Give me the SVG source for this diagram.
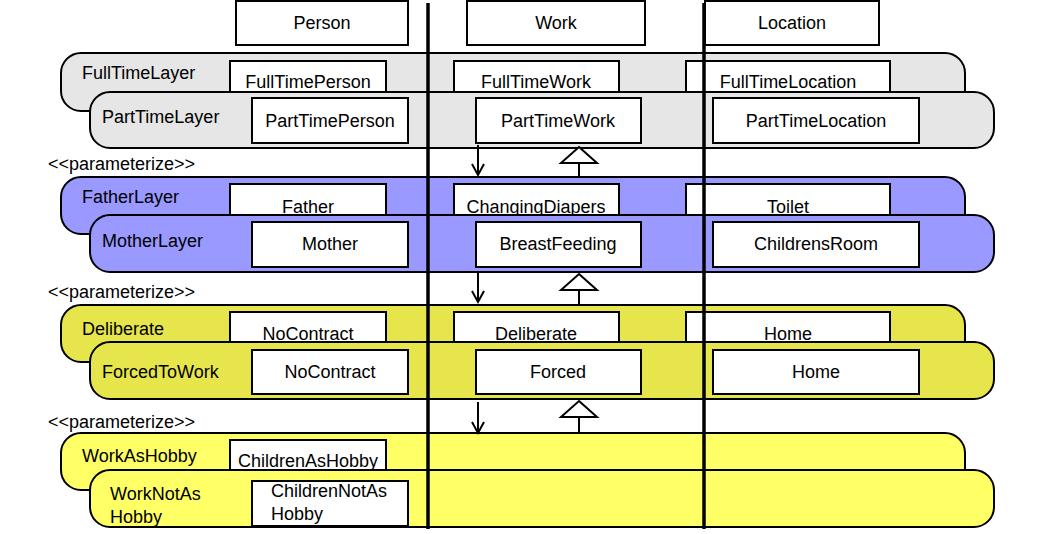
<svg xmlns="http://www.w3.org/2000/svg" width="1060" height="534" viewBox="0 0 1060 534">
<style>
text{font-family:"Liberation Sans",Arial,sans-serif;font-size:18px;fill:#000}
.c{text-anchor:middle}
.box{fill:#fff;stroke:#000;stroke-width:2}
.lay{stroke:#000;stroke-width:2}
.gray{fill:#e6e6e6}
.blue{fill:#9999ff}
.olive{fill:#e6e64c}
.yel{fill:#ffff66}
.lane{stroke:#000;stroke-width:3.5}
.ln{stroke:#000;stroke-width:2;fill:none}
.tri{stroke:#000;stroke-width:2;fill:#fff}
</style>
<rect width="1060" height="534" fill="#fff"/>
<g id="Person"><rect class="box" x="236" y="1" width="172" height="44"/><text class="c" x="322" y="29">Person</text></g>
<g id="Work"><rect class="box" x="467" y="1" width="178" height="44"/><text class="c" x="556" y="29">Work</text></g>
<g id="Location"><rect class="box" x="705" y="1" width="174" height="44"/><text class="c" x="792" y="29">Location</text></g>

<g id="FullTimeLayer"><rect class="lay gray" x="61" y="53" width="904" height="58" rx="20"/><text x="82" y="79">FullTimeLayer</text>
<g id="FullTimePerson"><rect class="box" x="230" y="61" width="156" height="40"/><text class="c" x="308" y="88">FullTimePerson</text></g>
<g id="FullTimeWork"><rect class="box" x="454" y="61" width="165" height="40"/><text class="c" x="536" y="88">FullTimeWork</text></g>
<g id="FullTimeLocation"><rect class="box" x="686" y="61" width="204" height="40"/><text class="c" x="788" y="88">FullTimeLocation</text></g>
</g>
<g id="PartTimeLayer"><rect class="lay gray" x="90" y="92" width="904" height="56" rx="20"/><text x="102" y="123">PartTimeLayer</text>
<g id="PartTimePerson"><rect class="box" x="252" y="98" width="156" height="45"/><text class="c" x="330" y="127">PartTimePerson</text></g>
<g id="PartTimeWork"><rect class="box" x="476" y="98" width="165" height="45"/><text class="c" x="558" y="127">PartTimeWork</text></g>
<g id="PartTimeLocation"><rect class="box" x="713" y="98" width="206" height="45"/><text class="c" x="816" y="127">PartTimeLocation</text></g>
</g>

<text x="48" y="170">&lt;&lt;parameterize&gt;&gt;</text>

<g id="FatherLayer"><rect class="lay blue" x="61" y="177" width="904" height="57" rx="20"/><text x="82" y="203">FatherLayer</text>
<g id="Father"><rect class="box" x="230" y="184" width="156" height="40"/><text class="c" x="308" y="213">Father</text></g>
<g id="ChangingDiapers"><rect class="box" x="454" y="184" width="165" height="40"/><text class="c" x="536" y="213">ChangingDiapers</text></g>
<g id="Toilet"><rect class="box" x="686" y="184" width="204" height="40"/><text class="c" x="788" y="213">Toilet</text></g>
</g>
<g id="MotherLayer"><rect class="lay blue" x="90" y="215" width="904" height="57" rx="20"/><text x="102" y="247">MotherLayer</text>
<g id="Mother"><rect class="box" x="252" y="222" width="156" height="45"/><text class="c" x="330" y="250">Mother</text></g>
<g id="BreastFeeding"><rect class="box" x="476" y="222" width="165" height="45"/><text class="c" x="558" y="250">BreastFeeding</text></g>
<g id="ChildrensRoom"><rect class="box" x="713" y="222" width="206" height="45"/><text class="c" x="816" y="250">ChildrensRoom</text></g>
</g>

<text x="48" y="298">&lt;&lt;parameterize&gt;&gt;</text>

<g id="Deliberate"><rect class="lay olive" x="61" y="305" width="904" height="57" rx="20"/><text x="82" y="335">Deliberate</text>
<g id="NoContract1"><rect class="box" x="230" y="312" width="156" height="40"/><text class="c" x="308" y="340">NoContract</text></g>
<g id="DeliberateWork"><rect class="box" x="454" y="312" width="165" height="40"/><text class="c" x="536" y="340">Deliberate</text></g>
<g id="Home1"><rect class="box" x="686" y="312" width="204" height="40"/><text class="c" x="788" y="340">Home</text></g>
</g>
<g id="ForcedToWork"><rect class="lay olive" x="90" y="342" width="904" height="57" rx="20"/><text x="102" y="378">ForcedToWork</text>
<g id="NoContract2"><rect class="box" x="252" y="350" width="156" height="44"/><text class="c" x="330" y="378">NoContract</text></g>
<g id="Forced"><rect class="box" x="476" y="350" width="165" height="44"/><text class="c" x="558" y="378">Forced</text></g>
<g id="Home2"><rect class="box" x="713" y="350" width="206" height="44"/><text class="c" x="816" y="378">Home</text></g>
</g>

<text x="48" y="428">&lt;&lt;parameterize&gt;&gt;</text>

<g id="WorkAsHobby"><rect class="lay yel" x="61" y="433" width="904" height="57" rx="20"/><text x="82" y="462">WorkAsHobby</text>
<g id="ChildrenAsHobby"><rect class="box" x="230" y="440" width="156" height="40"/><text class="c" x="308" y="467">ChildrenAsHobby</text></g>
</g>
<g id="WorkNotAsHobby"><rect class="lay yel" x="90" y="470" width="904" height="57" rx="20"/><text x="110" y="500">WorkNotAs</text><text x="110" y="523">Hobby</text>
<g id="ChildrenNotAsHobby"><rect class="box" x="252" y="481" width="156" height="45"/><text x="271" y="497">ChildrenNotAs</text><text x="271" y="520">Hobby</text></g>
</g>

<g id="lanes">
<line class="lane" x1="428" y1="3" x2="428" y2="529"/>
<line class="lane" x1="704" y1="3" x2="704" y2="529"/>
</g>

<g id="connectors">
<path class="ln" d="M478 145V175M472 164L478 175L484 164"/>
<path class="ln" d="M579 163V178"/><path class="tri" d="M579 147L597 163H561Z"/>
<path class="ln" d="M478 272V302M472 291L478 302L484 291"/>
<path class="ln" d="M579 290V305"/><path class="tri" d="M579 274L597 290H561Z"/>
<path class="ln" d="M478 402V433M472 422L478 433L484 422"/>
<path class="ln" d="M579 417V433"/><path class="tri" d="M579 401L597 417H561Z"/>
</g>
</svg>
